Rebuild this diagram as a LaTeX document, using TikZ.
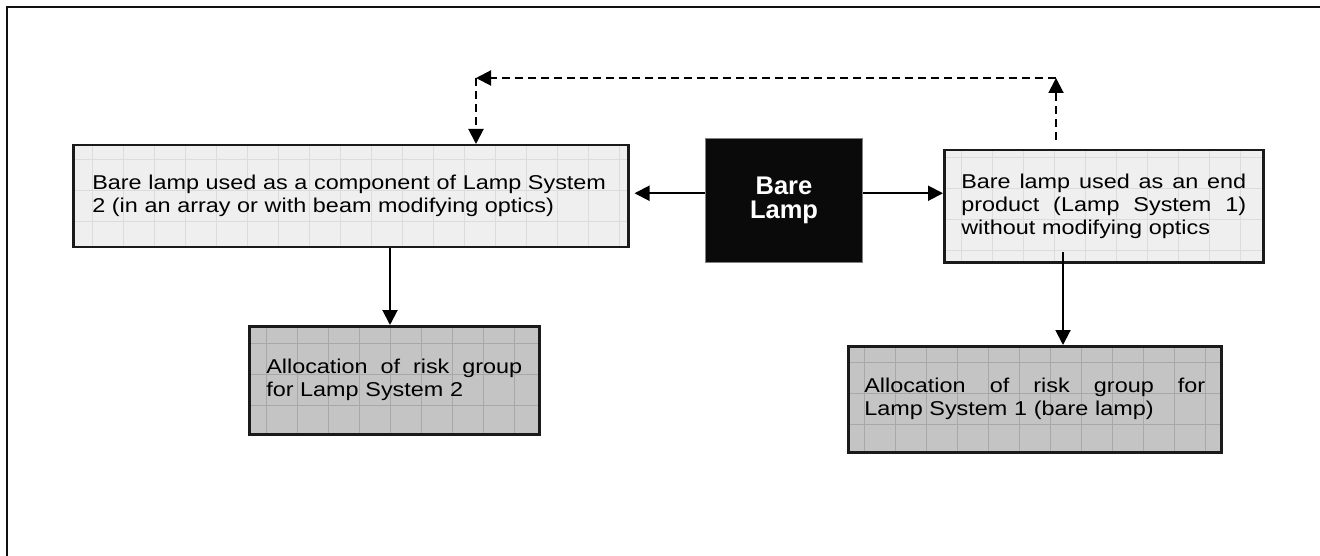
\documentclass[tikz,border=0pt]{standalone}
\usepackage{fontspec}
\setmainfont{Liberation Sans}
\newfontfamily\widefont{Liberation Sans}[FakeStretch=1.17]
\usetikzlibrary{arrows.meta}
\definecolor{framec}{HTML}{111111}
\definecolor{lightfill}{HTML}{EFEFEF}
\definecolor{lightgrid}{HTML}{DCDCDC}
\definecolor{darkfill}{HTML}{C4C4C4}
\definecolor{darkgrid}{HTML}{A8A8A8}
\definecolor{boxline}{HTML}{1A1A1A}
\definecolor{lampfill}{HTML}{0A0A0A}
\newcommand{\jl}[2]{\leavevmode\hbox to #1{#2}}
\begin{document}
\begin{tikzpicture}[x=1pt,y=-1pt,
  box/.style={draw=boxline, line width=2.5pt, rectangle, inner sep=0pt, anchor=north west,
    font=\widefont\fontsize{20}{23}\selectfont, align=left},
  lightbox/.style={box, fill=lightfill,
    path picture={\draw[lightgrid, line width=0.8pt] (path picture bounding box.south west) grid[xstep=31pt, ystep=31pt] (path picture bounding box.north east);}},
  darkbox/.style={box, fill=darkfill,
    path picture={\draw[darkgrid, line width=0.8pt] (path picture bounding box.south west) grid[xstep=31pt, ystep=31pt] (path picture bounding box.north east);}},
  lampbox/.style={rectangle, anchor=north west, fill=lampfill, draw=gray, line width=1pt,
    text=white, font=\fontsize{25.5}{24}\selectfont\bfseries, align=center, inner sep=0pt},
  arr/.style={line width=2pt, -{Triangle[length=15pt, width=15pt]}},
  dasharr/.style={line width=2pt, dash pattern=on 8pt off 5pt, -{Triangle[length=15pt, width=15pt]}}
]
\useasboundingbox (0,0) rectangle (1320,556);
\fill[white] (0,0) rectangle (1320,556);
% outer frame (open at right and bottom)
\draw[framec, line width=2.5pt] (7,556) -- (7,7) -- (1320,7);

\node[lightbox, minimum width=555pt, minimum height=102pt, text width=517pt] (A) at (72,144)
  {\mbox{Bare lamp used as a component of Lamp System}\\2 (in an array or with beam modifying optics)};
\node[lampbox, minimum width=157pt, minimum height=124pt] (B) at (705,138) {Bare\\Lamp};
\node[lightbox, minimum width=319pt, minimum height=112pt, text width=285pt] (C) at (943,149)
  {\jl{285pt}{Bare \hfill lamp \hfill used \hfill as \hfill an \hfill end}\\
   \jl{285pt}{product \hfill (Lamp \hfill System \hfill 1)}\\without modifying optics};
\node[darkbox, minimum width=290pt, minimum height=108pt, text width=256pt] (D) at (248,325)
  {\jl{256pt}{Allocation \hfill of \hfill risk \hfill group}\\for Lamp System 2};
\node[darkbox, minimum width=373pt, minimum height=106pt, text width=341pt] (E) at (847,345)
  {\jl{341pt}{Allocation \hfill of \hfill risk \hfill group \hfill for}\\Lamp System 1 (bare lamp)};

% solid connectors
\draw[arr, shorten >=5pt] ([yshift=3pt]A.east -| B.west) -- ([yshift=3pt]A.east);
\draw[arr] ([yshift=3pt]A.east -| B.east) -- ([yshift=3pt]A.east -| C.west);
\draw[arr] (A.south -| 390,0) -- (D.north -| 390,0);
\coordinate (cdown) at (1063,252);
\draw[arr] (cdown) -- (E.north -| cdown);

% dashed feedback
\coordinate (d1) at (1056,140);
\coordinate (d2) at (1056,78);
\coordinate (d3) at (476,78);
\draw[dasharr] (d1) -- (d2);
\draw[dasharr] (d2) -- (d3);
\draw[dasharr] (d3) -- (A.north -| d3);
\end{tikzpicture}
\end{document}
